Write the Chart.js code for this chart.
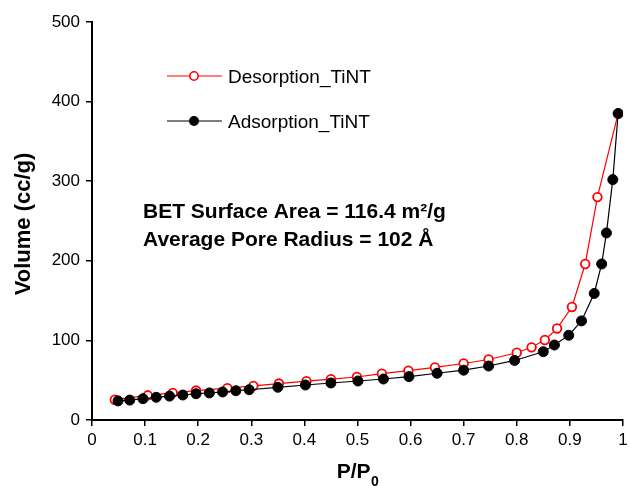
<!DOCTYPE html>
<html>
<head>
<meta charset="utf-8">
<script src="https://cdn.jsdelivr.net/npm/chart.js@4/dist/chart.umd.min.js"></script>
<style>
  html, body { margin: 0; padding: 0; background: #fff; }
  #wrap { width: 629px; height: 486px; }
</style>
</head>
<body>
<div id="wrap"><canvas id="isotherm" width="629" height="486"></canvas></div>
<script>
// values
const adsP = [0.049, 0.071, 0.096, 0.121, 0.146, 0.171, 0.196, 0.221, 0.246, 0.271, 0.296, 0.350, 0.402, 0.450, 0.501,
  0.549, 0.597, 0.650, 0.700, 0.747, 0.796, 0.850, 0.871, 0.898, 0.922, 0.946, 0.960, 0.969, 0.981, 0.991];
const adsV = [24, 25, 26.8, 28.5, 30, 31.4, 33, 34, 35.2, 36.8, 38, 41.1, 44, 46.5, 49,
  51.5, 54.5, 58.7, 62.6, 67.8, 74.8, 85.8, 94.2, 106.4, 124.5, 159, 196, 235, 302, 385];

const desP = [0.991, 0.952, 0.929, 0.904, 0.876, 0.853, 0.828, 0.800, 0.747, 0.700, 0.646, 0.596,
  0.546, 0.499, 0.450, 0.404, 0.352, 0.304, 0.255, 0.196, 0.152, 0.105, 0.043];
const desV = [385, 280, 196, 142, 115, 100.5, 91.3, 84.5, 76, 71, 66, 62,
  58.2, 54, 51.3, 48.8, 45.8, 42.9, 40, 37, 34, 31, 25.5];

const xTicks = [0, 0.1, 0.2, 0.3, 0.4, 0.5, 0.6, 0.7, 0.8, 0.9, 1];
const yTicks = [0, 100, 200, 300, 400, 500];

const seriesNames = ['Adsorption_TiNT', 'Desorption_TiNT'];
const notes = ['BET Surface Area = 116.4 m\u00B2/g', 'Average Pore Radius = 102 \u00C5'];

const FONT = "'Liberation Sans', Arial, sans-serif";

function toPoints(xs, ys) {
  return xs.map((x, i) => ({ x, y: ys[i] }));
}

// titles, legend and the text box are drawn on the canvas after the chart
const extras = {
  id: 'extras',
  afterDraw(chart) {
    const ctx = chart.ctx;
    const area = chart.chartArea;
    ctx.save();
    ctx.fillStyle = '#000';
    ctx.textBaseline = 'alphabetic';

    // y title
    ctx.font = 'bold 22px ' + FONT;
    ctx.textAlign = 'center';
    ctx.save();
    ctx.translate(30, 224);
    ctx.rotate(-Math.PI / 2);
    ctx.fillText('Volume (cc/g)', 0, 0);
    ctx.restore();

    // x title with subscript
    ctx.textAlign = 'left';
    ctx.font = 'bold 21px ' + FONT;
    const main = 'P/P';
    const wMain = ctx.measureText(main).width;
    ctx.font = 'bold 14px ' + FONT;
    const wSub = ctx.measureText('0').width;
    const cx = (area.left + area.right) / 2;
    const x0 = cx - (wMain + wSub) / 2;
    ctx.font = 'bold 21px ' + FONT;
    ctx.fillText(main, x0, 478);
    ctx.font = 'bold 14px ' + FONT;
    ctx.fillText('0', x0 + wMain + 0.5, 486);

    // legend (desorption first, as in the picture)
    const order = [1, 0];
    const legY = [76, 121];
    order.forEach((di, row) => {
      const ds = chart.data.datasets[di];
      const y = legY[row];
      ctx.strokeStyle = ds.borderColor;
      ctx.lineWidth = 1.2;
      ctx.beginPath();
      ctx.moveTo(167, y);
      ctx.lineTo(222, y);
      ctx.stroke();
      ctx.beginPath();
      ctx.arc(194, y, 4.2, 0, Math.PI * 2);
      ctx.fillStyle = ds.pointBackgroundColor;
      ctx.fill();
      ctx.lineWidth = 1.6;
      ctx.strokeStyle = ds.pointBorderColor;
      ctx.stroke();
      ctx.fillStyle = '#000';
      ctx.font = '19px ' + FONT;
      ctx.fillText(ds.label, 228, y + 6.5);
    });

    // text box
    ctx.font = 'bold 21px ' + FONT;
    ctx.fillText(notes[0], 143, 218);
    ctx.fillText(notes[1], 143, 246);

    ctx.restore();
  }
};

new Chart(document.getElementById('isotherm'), {
  type: 'line',
  data: {
    datasets: [{
      label: seriesNames[0],
      data: toPoints(adsP, adsV),
      borderColor: '#000',
      borderWidth: 1.2,
      pointBackgroundColor: '#000',
      pointBorderColor: '#000',
      pointBorderWidth: 1,
      pointRadius: 5,
      tension: 0,
    }, {
      label: seriesNames[1],
      data: toPoints(desP, desV),
      borderColor: '#ff0000',
      borderWidth: 1.2,
      pointBackgroundColor: '#fff',
      pointBorderColor: '#ff0000',
      pointBorderWidth: 1.8,
      pointRadius: 4.3,
      tension: 0,
    }],
  },
  options: {
    responsive: false,
    animation: false,
    layout: { padding: { top: 22, right: 3, left: 0, bottom: 0 } },
    plugins: { legend: { display: false }, tooltip: { enabled: false } },
    scales: {
      x: {
        type: 'linear',
        min: 0,
        max: 1,
        afterFit: (scale) => {
          scale.height = 66;
          scale.paddingLeft = 0;
          scale.paddingRight = 0;
        },
        afterBuildTicks: (scale) => { scale.ticks = xTicks.map((v) => ({ value: v })); },
        border: { color: '#000', width: 2 },
        grid: { drawOnChartArea: false, drawTicks: true, tickLength: 6, color: '#000', lineWidth: 1.5 },
        ticks: {
          color: '#000',
          padding: 4,
          maxRotation: 0,
          autoSkip: false,
          font: { family: FONT, size: 17 },
          callback: (v) => String(Math.round(v * 10) / 10),
        },
      },
      y: {
        min: 0,
        max: 500,
        afterFit: (scale) => { scale.width = 92; },
        afterBuildTicks: (scale) => { scale.ticks = yTicks.map((v) => ({ value: v })); },
        border: { color: '#000', width: 2 },
        grid: { drawOnChartArea: false, drawTicks: true, tickLength: 6, color: '#000', lineWidth: 1.5 },
        ticks: {
          color: '#000',
          padding: 6,
          font: { family: FONT, size: 17 },
        },
      },
    },
  },
  plugins: [extras],
});
</script>
</body>
</html>
